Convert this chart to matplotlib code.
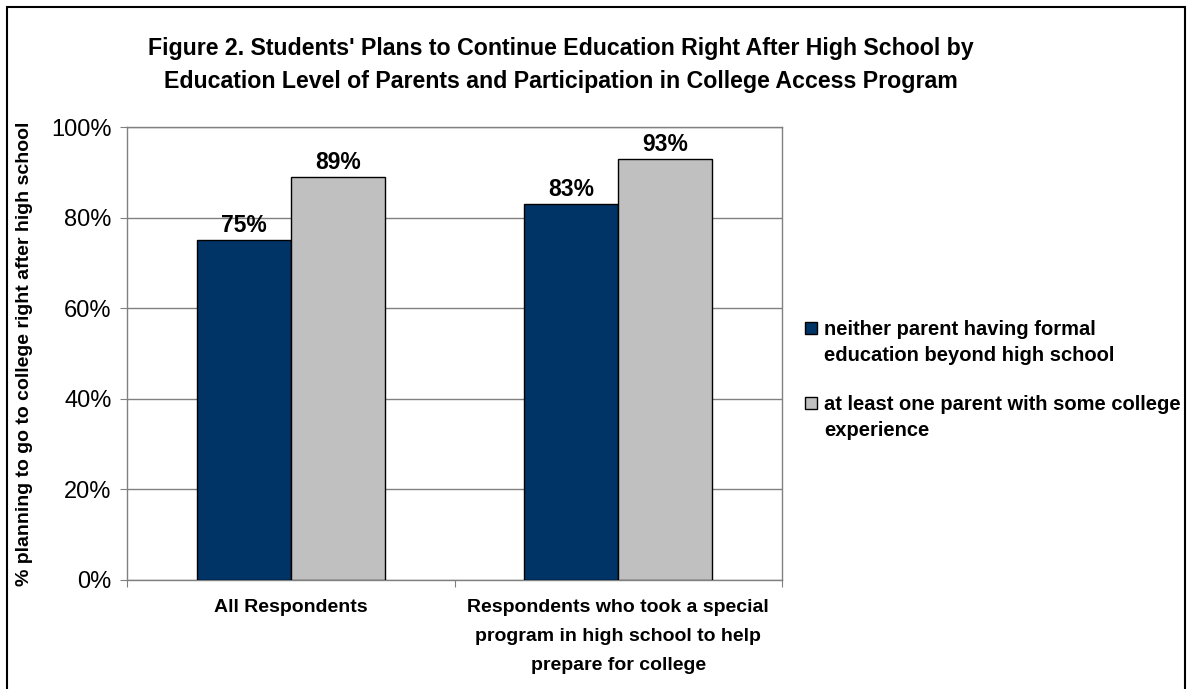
import numpy as np
import matplotlib.pyplot as plt
from matplotlib.patches import Rectangle

plt.rcParams['font.family'] = ['Liberation Sans', 'DejaVu Sans']

# data
categories = ["All Respondents",
              "Respondents who took a special\nprogram in high school to help\nprepare for college"]
series_names = ["neither parent having formal\neducation beyond high school",
                "at least one parent with some college\nexperience"]
neither_parent = [0.75, 0.83]
one_parent = [0.89, 0.93]
yticks = [0, 0.2, 0.4, 0.6, 0.8, 1.0]
ytick_labels = ["0%", "20%", "40%", "60%", "80%", "100%"]

colors = ['#003366', '#C0C0C0']
W, H = 1188, 689

fig = plt.figure(figsize=(W / 100, H / 100), dpi=100)
ax = fig.add_axes([127 / W, 1 - 580 / H, (782 - 127) / W, (580 - 127) / H])

x = np.arange(len(categories))
w = 0.287
b1 = ax.bar(x - w / 2, neither_parent, w, color=colors[0], edgecolor='black', linewidth=1, zorder=3)
b2 = ax.bar(x + w / 2, one_parent, w, color=colors[1], edgecolor='black', linewidth=1, zorder=3)

for bars, vals in ((b1, neither_parent), (b2, one_parent)):
    for rect, v in zip(bars, vals):
        ax.annotate(f"{v * 100:.0f}%", (rect.get_x() + rect.get_width() / 2, v),
                    xytext=(0, 2), textcoords='offset points', ha='center', va='bottom',
                    fontsize=16.5, fontweight='bold', zorder=4)

ax.set_xlim(-0.5, len(categories) - 0.5)
ax.set_ylim(0, 1)
ax.set_yticks(yticks)
ax.set_yticklabels(ytick_labels, fontsize=17)
ax.yaxis.grid(True, color='#808080', linewidth=1, zorder=0)
ax.tick_params(axis='y', length=5, color='#808080', pad=6)

# category boundaries as ticks, labels in between
ax.set_xticks(np.arange(len(categories) + 1) - 0.5)
ax.set_xticklabels([])
ax.tick_params(axis='x', which='major', length=5, color='#808080')
ax.set_xticks(x, minor=True)
ax.set_xticklabels(categories, minor=True, fontsize=14, fontweight='bold', linespacing=1.9)
ax.tick_params(axis='x', which='minor', length=0, pad=14)

for s in ax.spines.values():
    s.set_color('#808080')
    s.set_linewidth(1)

fig.text(25 / W, 1 - 354 / H, "% planning to go to college right after high school",
         rotation=90, ha='center', va='center', fontsize=14, fontweight='bold')

fig.text(561 / W, 1 - 65 / H,
         "Figure 2. Students' Plans to Continue Education Right After High School by\n"
         "Education Level of Parents and Participation in College Access Program",
         ha='center', va='center', fontsize=16.7, fontweight='bold', linespacing=1.6)

# legend drawn by hand so the square sits on the first line, like the original
leg_tops = [320, 395]
box_tops = [322, 397]
for name, col, top, bt in zip(series_names, colors, leg_tops, box_tops):
    fig.patches.append(Rectangle((805 / W, 1 - (bt + 12) / H), 12 / W, 12 / H,
                                 transform=fig.transFigure, facecolor=col,
                                 edgecolor='black', linewidth=1))
    fig.text(824 / W, 1 - top / H, name, ha='left', va='top',
             fontsize=14.5, fontweight='bold', linespacing=1.45)

# outer frame
fig.patches.append(Rectangle((7 / W, -0.02), (1185 - 7) / W, (H - 7) / H + 0.02,
                             transform=fig.transFigure, fill=False,
                             edgecolor='black', linewidth=1.5))

fig.savefig('out.png', dpi=100)
